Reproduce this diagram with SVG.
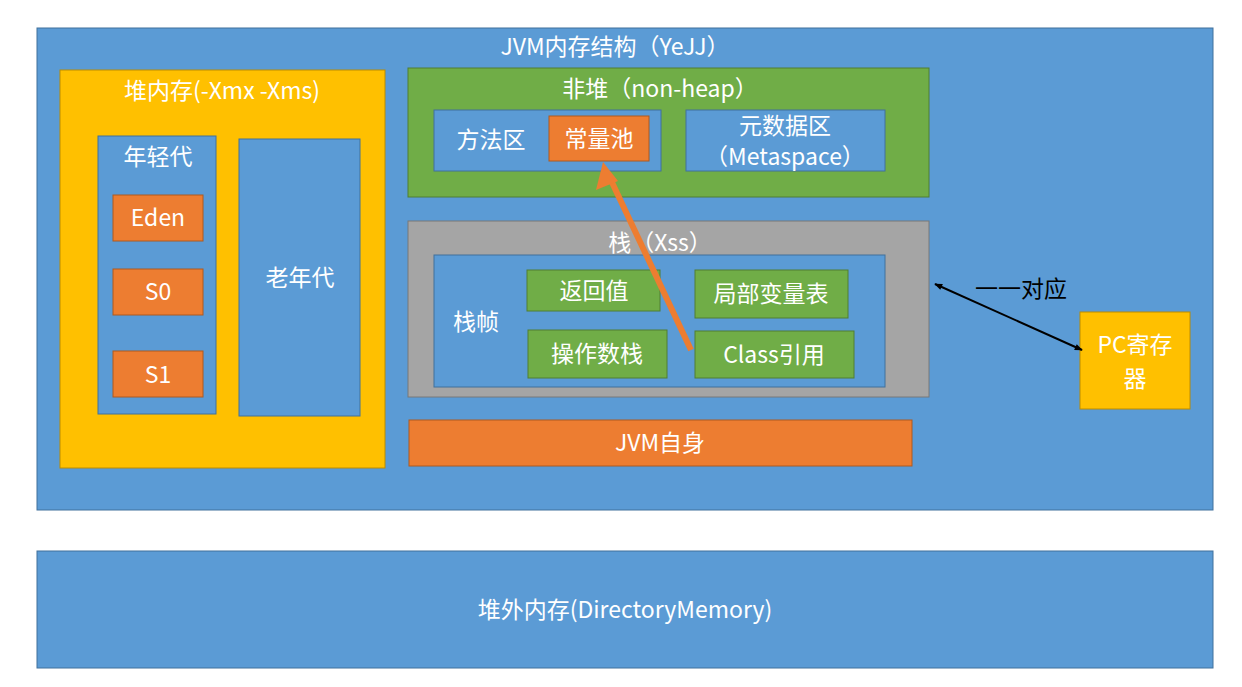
<svg xmlns="http://www.w3.org/2000/svg" width="1242" height="687" viewBox="0 0 1242 687">
<defs>
<style>
.blue{fill:#5B9BD5;stroke:#41719C;stroke-width:1}
.orange{fill:#ED7D31;stroke:#AE5A21;stroke-width:1}
.green{fill:#70AD47;stroke:#507E32;stroke-width:1}
.yellow{fill:#FFC000;stroke:#BC8C00;stroke-width:1}
.gray{fill:#A5A5A5;stroke:#787878;stroke-width:1}
text{font-family:"Noto Sans CJK SC","Noto Sans",sans-serif;font-size:23px;fill:#FFFFFF;text-anchor:middle;dominant-baseline:central}
.dark{fill:#000000}
</style>
<marker id="blk" viewBox="0 0 10 10" refX="9" refY="5" markerWidth="9" markerHeight="8" orient="auto-start-reverse" markerUnits="userSpaceOnUse">
<path d="M0,1 L10,5 L0,9 z" fill="#000"/>
</marker>
</defs>
<rect width="1242" height="687" fill="#FFFFFF"/>
<g id="jvm">
<rect class="blue" x="37" y="28" width="1176" height="482"/>
<text x="615" y="45">JVM内存结构（YeJJ）</text>
</g>
<g id="heap">
<rect class="yellow" x="60" y="70" width="325" height="398"/>
<text x="222" y="89">堆内存(-Xmx -Xms)</text>
</g>
<g id="young">
<rect class="blue" x="98" y="136" width="118" height="278"/>
<text x="158" y="155">年轻代</text>
</g>
<g id="eden">
<rect class="orange" x="113" y="195" width="90" height="46"/>
<text x="158" y="216">Eden</text>
</g>
<g id="s0">
<rect class="orange" x="113" y="269" width="90" height="46"/>
<text x="158" y="290">S0</text>
</g>
<g id="s1">
<rect class="orange" x="113" y="351" width="90" height="46"/>
<text x="158" y="373">S1</text>
</g>
<g id="old">
<rect class="blue" x="239" y="139" width="121" height="277"/>
<text x="300" y="276">老年代</text>
</g>
<g id="nonheap">
<rect class="green" x="408" y="68" width="521" height="129"/>
<text x="660" y="87">非堆（non-heap）</text>
</g>
<g id="method">
<rect class="blue" x="434" y="110" width="227" height="61"/>
<text x="491" y="138">方法区</text>
</g>
<g id="constpool">
<rect class="orange" x="549" y="116" width="100" height="45"/>
<text x="599" y="137">常量池</text>
</g>
<g id="meta">
<rect class="blue" x="686" y="110" width="199" height="61"/>
<text x="785" y="124"><tspan x="785" y="124">元数据区</tspan><tspan x="785" y="155">（Metaspace）</tspan></text>
</g>
<g id="stack">
<rect class="gray" x="408" y="221" width="521" height="176"/>
<text x="660" y="241">栈（Xss）</text>
</g>
<g id="frame">
<rect class="blue" x="434" y="255" width="451" height="132"/>
<text x="476" y="320">栈帧</text>
</g>
<g id="ret">
<rect class="green" x="527" y="270" width="133" height="41"/>
<text x="594" y="289">返回值</text>
</g>
<g id="locals">
<rect class="green" x="695" y="270" width="153" height="48"/>
<text x="771" y="292">局部变量表</text>
</g>
<g id="opstack">
<rect class="green" x="528" y="330" width="139" height="48"/>
<text x="597" y="352">操作数栈</text>
</g>
<g id="classref">
<rect class="green" x="695" y="331" width="159" height="47"/>
<text x="774" y="353">Class引用</text>
</g>
<g id="jvmself">
<rect class="orange" x="409" y="420" width="503" height="46"/>
<text x="660" y="441">JVM自身</text>
</g>
<g id="pc">
<rect class="yellow" x="1080" y="312" width="110" height="97"/>
<text x="1135" y="343"><tspan x="1135" y="343">PC寄存</tspan><tspan x="1135" y="377">器</tspan></text>
</g>
<g id="offheap">
<rect class="blue" x="37" y="551" width="1176" height="117"/>
<text x="625" y="608">堆外内存(DirectoryMemory)</text>
</g>
<g id="connectors">
<line x1="935" y1="284" x2="1082" y2="350" stroke="#000" stroke-width="2" marker-start="url(#blk)" marker-end="url(#blk)"/>
<text class="dark" x="1021" y="287">一一对应</text>
<line x1="691" y1="350" x2="609" y2="176" stroke="#ED7D31" stroke-width="6"/>
<path d="M603,162 L618,181 L596,190 z" fill="#ED7D31"/>
</g>
</svg>
